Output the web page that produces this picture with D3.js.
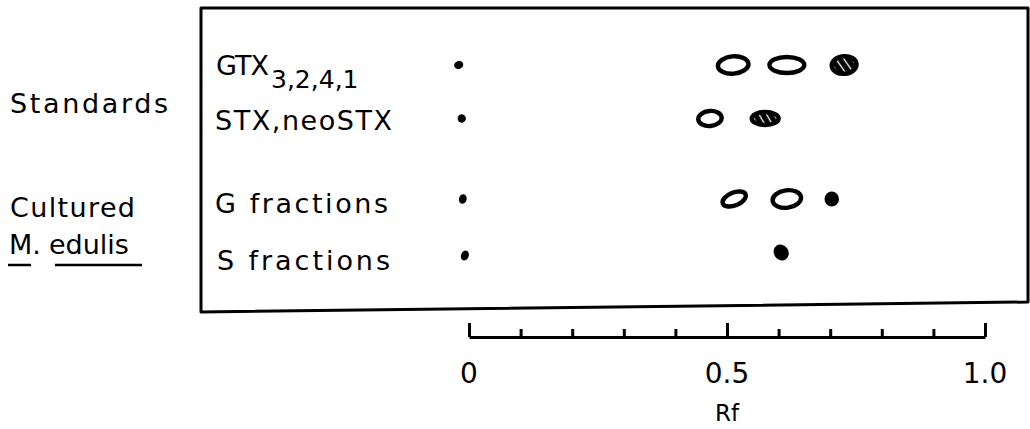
<!DOCTYPE html>
<html>
<head>
<meta charset="utf-8">
<script src="https://cdn.jsdelivr.net/npm/d3@7"></script>
<style>
  html, body { margin: 0; padding: 0; background: #fff; }
  svg { display: block; }
  text { font-family: "DejaVu Sans", sans-serif; fill: #000; }
</style>
</head>
<body>
<div id="chart"></div>
<script>
// ---------- data ----------
const groups = ["Standards", "Cultured"];
const rowLabels = ["GTX", "STX,neoSTX", "G fractions", "S fractions"];
const rowGroup = [0, 0, 1, 1];
// spots per lane: Rf value, spot kind, spot width (Rf units), height/width ratio, tilt
const spotRf   = [[-0.02, 0.512, 0.616, 0.727], [-0.014, 0.467, 0.574], [-0.012, 0.514, 0.616, 0.703], [-0.008, 0.605]];
const spotKind = [["origin", "open", "open", "hatched"], ["origin", "open", "hatched"], ["origin", "open", "open", "filled"], ["origin", "filled"]];
const spotWidth = [[0.018, 0.068, 0.076, 0.056], [0.016, 0.054, 0.06], [0.015, 0.056, 0.064, 0.028], [0.015, 0.028]];
const spotRatio = [[0.85, 0.62, 0.52, 0.75], [1.0, 0.7, 0.55], [1.25, 0.6, 0.66, 1.05], [1.3, 1.15]];
const spotTilt  = [[-20, -5, 0, -5], [-20, -5, 0], [10, -22, -8, 0], [20, -35]];
const tickValues = [0, 0.1, 0.2, 0.3, 0.4, 0.5, 0.6, 0.7, 0.8, 0.9, 1.0];
const tickLabels = [0, 0.5, 1.0];
const axisTitle = "Rf";

// ---------- layout ----------
const W = 1030, H = 429;
const svg = d3.select("#chart").append("svg").attr("width", W).attr("height", H);

const x = d3.scaleLinear().domain([0, 1]).range([469, 985]);
const rowStep = 53.5, groupGap = 27, row0 = 65;
const y = i => row0 + i * rowStep + rowGroup[i] * groupGap;

// hatch pattern
const defs = svg.append("defs");
const pat = defs.append("pattern").attr("id", "hatch").attr("patternUnits", "userSpaceOnUse")
  .attr("width", 6.5).attr("height", 6.5).attr("patternTransform", "rotate(-30)");
pat.append("rect").attr("width", 6.5).attr("height", 6.5).attr("fill", "#000");
pat.append("rect").attr("x", 2.6).attr("y", 0).attr("width", 1.3).attr("height", 6.5).attr("fill", "#fff");

// frame
svg.append("path")
  .attr("d", "M201,8 L1028,8 L1028,302 L201,312 Z")
  .attr("fill", "none").attr("stroke", "#000").attr("stroke-width", 3).attr("stroke-linejoin", "round");

// group labels
const fs = 27;
svg.append("text").attr("x", 10).attr("y", 113).attr("font-size", fs)
  .attr("textLength", 158).text(groups[0]);
svg.append("text").attr("x", 10).attr("y", 217).attr("font-size", fs)
  .attr("textLength", 125).text(groups[1]);
const me = svg.append("text").attr("x", 9).attr("y", 254).attr("font-size", fs);
me.append("tspan").text("M.");
me.append("tspan").attr("dx", 8).text("edulis");
svg.append("line").attr("x1", 8).attr("x2", 31).attr("y1", 265).attr("y2", 265).attr("stroke", "#000").attr("stroke-width", 2.5);
svg.append("line").attr("x1", 55).attr("x2", 142).attr("y1", 265).attr("y2", 265).attr("stroke", "#000").attr("stroke-width", 2.5);

// row labels
const lab0 = svg.append("text").attr("x", 216).attr("y", 75).attr("font-size", fs);
lab0.append("tspan").attr("textLength", 53).text(rowLabels[0]);
lab0.append("tspan").attr("dx", 3).attr("dy", 13).attr("font-size", 25).text("3,2,4,1");
svg.append("text").attr("x", 215).attr("y", 130).attr("font-size", fs).attr("textLength", 177).text(rowLabels[1]);
svg.append("text").attr("x", 215).attr("y", 213).attr("font-size", fs).attr("textLength", 173).text(rowLabels[2]);
svg.append("text").attr("x", 217).attr("y", 270).attr("font-size", fs).attr("textLength", 173).text(rowLabels[3]);

// spots
rowLabels.forEach((lab, i) => {
  const g = svg.append("g");
  spotRf[i].forEach((rf, j) => {
    const kind = spotKind[i][j];
    const w = x(spotWidth[i][j]) - x(0);
    const h = w * spotRatio[i][j];
    const cx = x(rf), cy = y(i) + (i === 3 && kind === "origin" ? 3 : 0);
    const e = g.append("ellipse")
      .attr("transform", `translate(${cx},${cy}) rotate(${spotTilt[i][j]})`);
    if (kind === "open") {
      e.attr("rx", w / 2 - 2.2).attr("ry", h / 2 - 2.2)
        .attr("fill", "none").attr("stroke", "#000").attr("stroke-width", 4.4);
    } else if (kind === "hatched") {
      e.attr("rx", w / 2 - 2).attr("ry", h / 2 - 2)
        .attr("fill", "url(#hatch)").attr("stroke", "#000").attr("stroke-width", 4.4);
    } else {
      e.attr("rx", w / 2).attr("ry", h / 2).attr("fill", "#000");
    }
  });
});

// axis
const axisY = 337;
const ax = svg.append("g").attr("transform", `translate(0,${axisY})`)
  .call(d3.axisTop(x).tickValues(tickValues).tickSize(8).tickFormat("").tickSizeOuter(0));
ax.select(".domain").attr("stroke-width", 3);
ax.selectAll(".tick line").attr("stroke-width", 3)
  .attr("y2", d => tickLabels.includes(d) ? -14 : -8);

svg.append("g").selectAll("text").data(tickLabels).join("text")
  .attr("x", d => x(d)).attr("y", 383).attr("text-anchor", "middle")
  .attr("font-size", 28).text(d => d === 0 ? "0" : d.toFixed(1));

svg.append("text").attr("x", x(0.5)).attr("y", 421).attr("text-anchor", "middle")
  .attr("font-size", 23).text(axisTitle);
</script>
</body>
</html>
